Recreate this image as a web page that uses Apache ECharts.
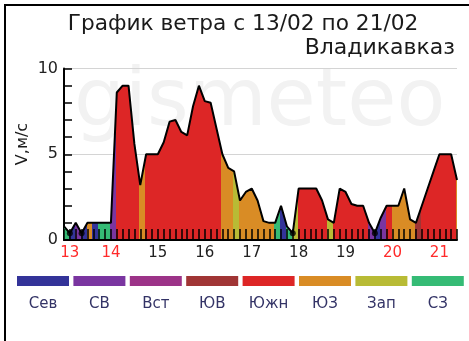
<!DOCTYPE html>
<html>
<head>
<meta charset="utf-8">
<script src="https://cdn.jsdelivr.net/npm/echarts@6.0.0/dist/echarts.min.js"></script>
<style>
  html, body { margin: 0; padding: 0; background: #ffffff; }
  #chart { width: 469px; height: 341px; }
</style>
</head>
<body>
<div id="chart"></div>
<script>
// Wind speed, m/s, one reading every 3 hours starting 13/02 00:00
const speeds = [
  0.8, 0.4, 1.0, 0.4, 1, 1, 1, 1,
  1, 8.6, 9, 9, 5.6, 3.2, 5, 5,
  5, 5.7, 6.9, 7, 6.3, 6.1, 7.8, 9,
  8.1, 8, 6.5, 5, 4.2, 4, 2.3, 2.8,
  3, 2.3, 1.1, 1, 1, 2, 0.8, 0.4,
  3, 3, 3, 3, 2.3, 1.2, 1, 3,
  2.8, 2.1, 2, 2, 1, 0.4, 1.3, 2,
  2, 2, 3, 1.2, 1, 2, 3, 4,
  5, 5, 5, 3.5
];

// Wind direction for each reading
const directions = [
  'СЗ', 'Сев', 'СВ', 'Сев', 'ЮЗ', 'Сев', 'СЗ', 'СЗ',
  'СВ', 'Южн', 'Южн', 'Южн', 'Южн', 'ЮЗ', 'Южн', 'Южн',
  'Южн', 'Южн', 'Южн', 'Южн', 'Южн', 'Южн', 'Южн', 'Южн',
  'Южн', 'Южн', 'Южн', 'ЮЗ', 'ЮЗ', 'Зап', 'ЮЗ', 'ЮЗ',
  'ЮЗ', 'ЮЗ', 'ЮЗ', 'ЮЗ', 'СЗ', 'Сев', 'СЗ', 'Зап',
  'Южн', 'Южн', 'Южн', 'Южн', 'Южн', 'Зап', 'Южн', 'Южн',
  'Южн', 'Южн', 'Южн', 'Южн', 'СВ', 'Сев', 'СВ', 'Южн',
  'ЮЗ', 'ЮЗ', 'ЮЗ', 'ЮЗ', 'ЮВ', 'Южн', 'Южн', 'Южн',
  'Южн', 'Южн', 'Южн', 'ЮЗ'
];

// Readings marked as calm
const calmReadings = [1, 3, 39, 53];

// Compass legend
const dirNames  = ['Сев', 'СВ', 'Вст', 'ЮВ', 'Южн', 'ЮЗ', 'Зап', 'СЗ'];
const dirColors = ['#333399', '#7a35a0', '#9c3388', '#a03535', '#dd2626', '#d98c25', '#b8bb35', '#35bb75'];

// Day labels along the time axis
const dayLabels  = ['13', '14', '15', '16', '17', '18', '19', '20', '21'];
const dayTicks   = [1, 8, 16, 24, 32, 40, 48, 56, 64];
const weekendDays = ['13', '14', '20', '21'];

const yTickLabels = [0, 5, 10];

const chart = echarts.init(document.getElementById('chart'), null, { renderer: 'canvas' });

const points = speeds.map((v, i) => [i, v]);
const calmPoints = calmReadings.map(i => [i, speeds[i]]);

// Each reading colours a strip of the area by its direction
const pieces = directions.map((d, i) => ({
  gte: i - 0.15,
  lt: i + 0.85,
  color: dirColors[dirNames.indexOf(d)]
}));

const font = 'DejaVu Sans';

const legendGraphics = [];
dirNames.forEach((name, k) => {
  const x0 = 17 + k * 56.4;
  legendGraphics.push({
    type: 'rect',
    z: 1,
    shape: { x: x0, y: 276, width: 52, height: 10 },
    style: { fill: dirColors[k] },
    silent: true
  });
  legendGraphics.push({
    type: 'text',
    z: 1,
    x: x0 + 26, y: 304,
    style: {
      text: name, fill: '#333366', font: '15px "' + font + '"',
      textAlign: 'center', textVerticalAlign: 'middle'
    },
    silent: true
  });
});

const option = {
  backgroundColor: '#ffffff',
  animation: false,
  grid: {
    left: 64, right: 12, top: 68.5, bottom: 101,
    containLabel: false, outerBoundsMode: 'none'
  },
  xAxis: {
    type: 'value',
    min: 0, max: 67,
    interval: 1,
    z: 20,
    axisLine: { show: true, onZero: false, lineStyle: { color: '#000', width: 2 } },
    axisTick: { show: true, inside: true, length: 11, lineStyle: { color: '#000', width: 1.5 } },
    splitLine: { show: false },
    axisLabel: {
      customValues: dayTicks,
      margin: 6,
      fontFamily: font,
      fontSize: 15,
      formatter: v => {
        const d = dayLabels[dayTicks.indexOf(v)];
        if (d === undefined) return '';
        return weekendDays.includes(d) ? '{w|' + d + '}' : '{n|' + d + '}';
      },
      rich: {
        w: { color: '#ff2a2a', fontFamily: font, fontSize: 15 },
        n: { color: '#222222', fontFamily: font, fontSize: 15 }
      }
    }
  },
  yAxis: {
    type: 'value',
    min: 0, max: 10,
    interval: 5,
    z: 1,
    axisLine: { show: true, lineStyle: { color: '#000', width: 2 } },
    axisTick: { show: true, inside: true, length: 8, lineStyle: { color: '#000', width: 1.5 } },
    minorTick: { show: true, splitNumber: 5, length: 8, lineStyle: { color: '#000', width: 1.5 } },
    splitLine: { show: true, lineStyle: { color: '#d4d4d4', width: 1 } },
    axisLabel: {
      customValues: yTickLabels,
      margin: 6,
      color: '#222222',
      fontFamily: font,
      fontSize: 16
    }
  },
  visualMap: {
    type: 'piecewise',
    show: false,
    seriesIndex: 0,
    dimension: 0,
    pieces: pieces,
    outOfRange: { color: '#999999' }
  },
  series: [
    {
      name: 'direction',
      type: 'line',
      data: points,
      showSymbol: false,
      symbol: 'none',
      z: 10,
      lineStyle: { width: 0 },
      areaStyle: { opacity: 1 },
      silent: true
    },
    {
      name: 'speed',
      type: 'line',
      data: points,
      showSymbol: false,
      symbol: 'none',
      z: 11,
      lineStyle: { color: '#000000', width: 2 },
      silent: true
    },
    {
      name: 'calm',
      type: 'scatter',
      data: calmPoints,
      symbol: 'circle',
      symbolSize: 6,
      z: 12,
      itemStyle: { color: '#000000' },
      silent: true
    }
  ],
  graphic: [
    {
      type: 'text', z: 0,
      x: 74, y: 104,
      style: {
        text: 'gismeteo', fill: '#f2f2f2',
        font: '80px "' + font + '"',
        textAlign: 'left', textVerticalAlign: 'middle'
      },
      silent: true
    },
    {
      type: 'text', z: 1,
      x: 243, y: 24,
      style: {
        text: 'График ветра с 13/02 по 21/02', fill: '#1a1a1a',
        font: '21.7px "' + font + '"',
        textAlign: 'center', textVerticalAlign: 'middle'
      },
      silent: true
    },
    {
      type: 'text', z: 1,
      x: 455, y: 48,
      style: {
        text: 'Владикавказ', fill: '#1a1a1a',
        font: '22px "' + font + '"',
        textAlign: 'right', textVerticalAlign: 'middle'
      },
      silent: true
    },
    {
      type: 'text', z: 1,
      x: 23, y: 144,
      rotation: Math.PI / 2,
      style: {
        text: 'V,м/с', fill: '#1a1a1a',
        font: '16px "' + font + '"',
        textAlign: 'center', textVerticalAlign: 'middle'
      },
      silent: true
    },
    {
      type: 'polyline', z: 1,
      shape: { points: [[5, 341], [5, 5], [469, 5]] },
      style: { stroke: '#000000', lineWidth: 2, fill: null },
      silent: true
    }
  ].concat(legendGraphics)
};

chart.setOption(option);
</script>
</body>
</html>
